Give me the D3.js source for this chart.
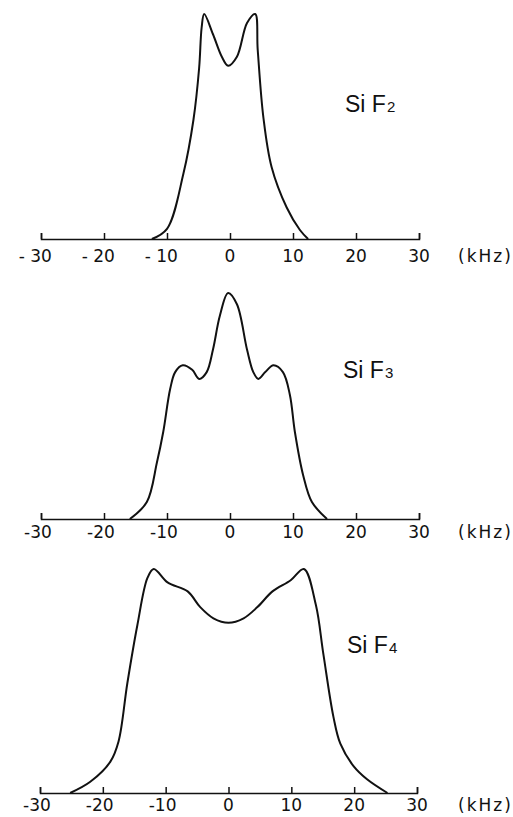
<!DOCTYPE html>
<html>
<head>
<meta charset="utf-8">
<script src="https://cdn.jsdelivr.net/npm/d3@7"></script>
<style>
  body { margin: 0; background: #fff; }
  svg { display: block; }
</style>
</head>
<body>
<svg id="viz"></svg>
<script>
const svg = d3.select("#viz");
const W = 513, H = 817;
svg.attr("width", W).attr("height", H);

// x ticks (kHz)
const tickValues = [-30, -20, -10, 0, 10, 20, 30];
const tickLabels1 = ["- 30", "- 20", "- 10", "0", "10", "20", "30"];
const tickLabels = ["-30", "-20", "-10", "0", "10", "20", "30"];

// SiF2 spectrum (kHz, relative intensity)
const sif2X = [-12.4, -10, -7.4, -5.8, -4.9, -4.5, -4.1, -2.7, -1.3, -0.3, 1.1, 2.7, 4.0, 4.4, 5.3, 6.6, 9.0, 11.1, 12.4];
const sif2Y = [0, 0.045, 0.29, 0.53, 0.76, 0.94, 1.0, 0.91, 0.81, 0.77, 0.81, 0.96, 1.0, 0.84, 0.54, 0.32, 0.14, 0.04, 0];

// SiF3
const sif3X = [-15.9, -13.2, -11.6, -10.6, -9.5, -8.7, -7.5, -6.0, -4.9, -3.7, -2.7, -1.6, -0.3, 1.1, 2.7, 3.7, 4.5, 5.6, 6.9, 8.4, 9.5, 10.3, 11.6, 13.0, 15.4];
const sif3Y = [0, 0.075, 0.25, 0.385, 0.575, 0.65, 0.68, 0.66, 0.62, 0.65, 0.75, 0.90, 1.0, 0.95, 0.75, 0.65, 0.62, 0.65, 0.68, 0.65, 0.55, 0.385, 0.195, 0.075, 0];

// SiF4
const sif4X = [-25.2, -22.0, -18.8, -17.5, -16.1, -14.5, -12.9, -11.9, -9.7, -6.5, -4.5, -2.4, 0, 2.4, 4.6, 7.0, 9.9, 12.0, 13.9, 15.1, 16.7, 17.8, 19.9, 22.1, 25.3];
const sif4Y = [0, 0.05, 0.14, 0.23, 0.49, 0.75, 0.96, 1.0, 0.94, 0.90, 0.83, 0.78, 0.76, 0.78, 0.83, 0.90, 0.95, 1.0, 0.84, 0.62, 0.34, 0.22, 0.12, 0.06, 0];

const panels = [
  { xs: sif2X, ys: sif2Y, labels: tickLabels1, sub: "2", x0: 41, x1: 419, top: 14, axis: 239, ty: 23, lx: 345, ly: 112 },
  { xs: sif3X, ys: sif3Y, labels: tickLabels,  sub: "3", x0: 41, x1: 419, top: 293, axis: 519, ty: 19, lx: 343, ly: 378 },
  { xs: sif4X, ys: sif4Y, labels: tickLabels,  sub: "4", x0: 40, x1: 417, top: 569, axis: 793, ty: 18, lx: 347, ly: 653 }
];

panels.forEach(p => {
  const x = d3.scaleLinear().domain([-30, 30]).range([p.x0, p.x1]);
  const y = d3.scaleLinear().domain([0, 1]).range([p.axis, p.top]);

  const g = svg.append("g");

  // axis: ticks pointing up, labels below
  const ax = g.append("g")
    .attr("transform", `translate(0,${p.axis})`)
    .call(d3.axisTop(x).tickValues(tickValues).tickSize(6).tickFormat(""));
  ax.select(".domain").attr("stroke", "#111").attr("stroke-width", 1.5);
  ax.selectAll(".tick line").attr("stroke", "#111").attr("stroke-width", 1.5);

  tickValues.forEach((v, i) => {
    const t = g.append("text")
      .attr("y", p.axis + p.ty)
      .attr("font-family", "DejaVu Sans")
      .attr("font-size", 17)
      .attr("fill", "#111")
      .text(Math.abs(v));
    // center digits on the tick, minus hangs to the left
    const half = t.node().getComputedTextLength() / 2;
    t.attr("text-anchor", "end").attr("x", x(v) + half).text(p.labels[i]);
  });

  g.append("text")
    .attr("x", 458)
    .attr("y", p.axis + p.ty)
    .attr("font-family", "DejaVu Sans")
    .attr("font-size", 17)
    .attr("letter-spacing", 2)
    .attr("fill", "#111")
    .text("(kHz)");

  const line = d3.line()
    .x((d, i) => x(p.xs[i]))
    .y(d => y(d))
    .curve(d3.curveCatmullRom.alpha(0.5));

  g.append("path")
    .datum(p.ys)
    .attr("d", line)
    .attr("fill", "none")
    .attr("stroke", "#111")
    .attr("stroke-width", 2);

  const lab = g.append("text")
    .attr("x", p.lx)
    .attr("y", p.ly)
    .attr("font-family", "Liberation Sans")
    .attr("font-size", 23)
    .attr("fill", "#111");
  lab.append("tspan").text("Si F");
  lab.append("tspan").attr("font-size", 15).attr("dx", 1).text(p.sub);
});
</script>
</body>
</html>
